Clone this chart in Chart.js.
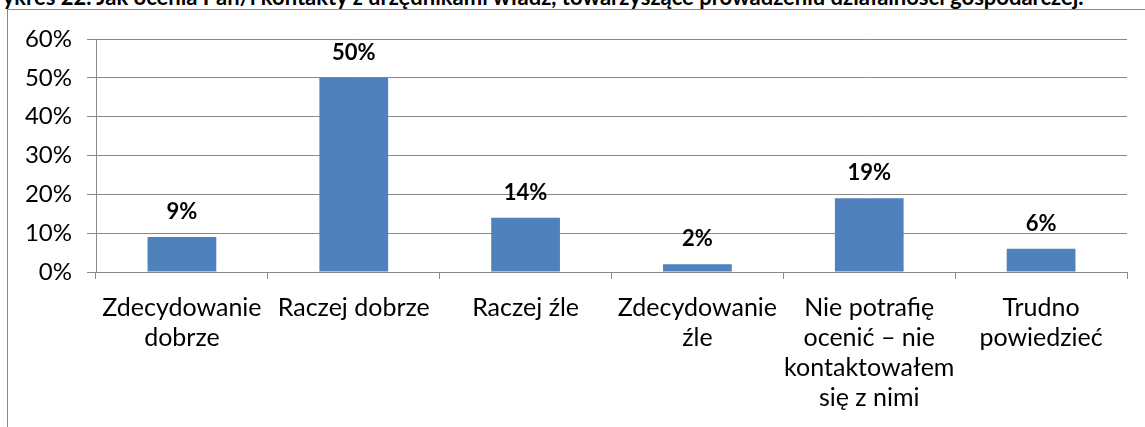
<!DOCTYPE html>
<html>
<head>
<meta charset="utf-8">
<script src="https://cdn.jsdelivr.net/npm/chart.js@4/dist/chart.umd.min.js"></script>
<style>
  html, body { margin:0; padding:0; background:#fff; overflow:hidden; }
  #wrap { position:relative; width:1145px; height:427px; overflow:hidden; }
  #title { position:absolute; left:-20px; top:-16px; line-height:26px; white-space:nowrap; font-family:Lato, "Noto Sans", sans-serif; font-weight:bold; font-size:22px; color:#000; }
  #frame { position:absolute; left:7px; top:9px; width:1200px; height:500px; border-left:1px solid #8a8a8a; border-top:1px solid #8a8a8a; }
  canvas { position:absolute; left:0; top:0; }
</style>
</head>
<body>
<div id="wrap">
  <div id="title">Wykres 22. Jak ocenia Pan/i kontakty z urzędnikami władz, towarzyszące prowadzeniu działalności gospodarczej.</div>
  <div id="frame"></div>
  <canvas id="c" width="1145" height="427"></canvas>
</div>
<script>
const categories = [
  ["Zdecydowanie", "dobrze"],
  ["Raczej dobrze"],
  ["Raczej źle"],
  ["Zdecydowanie", "źle"],
  ["Nie potrafię", "ocenić – nie", "kontaktowałem", "się z nimi"],
  ["Trudno", "powiedzieć"]
];
const values = [9, 50, 14, 2, 19, 6];
const yTicks = [0, 10, 20, 30, 40, 50, 60];

const FONT = 'Lato, "Noto Sans", sans-serif';

const labelPlugin = {
  id: 'barLabels',
  afterDatasetsDraw(chart) {
    const ctx = chart.ctx;
    const meta = chart.getDatasetMeta(0);
    ctx.save();
    ctx.font = 'bold 22px ' + FONT;
    ctx.fillStyle = '#000';
    ctx.textAlign = 'center';
    ctx.textBaseline = 'middle';
    meta.data.forEach((bar, i) => {
      ctx.fillText(values[i] + '%', bar.x, bar.y - 25);
    });
    ctx.restore();
  }
};

new Chart(document.getElementById('c'), {
  type: 'bar',
  data: {
    labels: categories,
    datasets: [{
      data: values,
      backgroundColor: '#4F81BD',
      borderWidth: 0,
      categoryPercentage: 1.0,
      barPercentage: 0.4
    }]
  },
  options: {
    responsive: false,
    animation: false,
    devicePixelRatio: 1,
    layout: { padding: { top: 39, right: 18, left: 0, bottom: 0 } },
    plugins: { legend: { display: false }, tooltip: { enabled: false }, title: { display: false } },
    scales: {
      x: {
        afterFit(scale) { scale.height = 155; },
        grid: { offset: true, drawOnChartArea: false, drawTicks: true, tickLength: 7, color: '#8a8a8a', lineWidth: 1 },
        border: { display: true, color: '#8a8a8a', width: 1 },
        ticks: { color: '#000', font: { family: FONT, size: 25 }, padding: 14, maxRotation: 0, autoSkip: false, lineHeight: 1.25 }
      },
      y: {
        min: 0, max: 60,
        afterFit(scale) { scale.width = 96; },
        afterBuildTicks(scale) { scale.ticks = yTicks.map(v => ({ value: v })); },
        grid: { color: '#8a8a8a', lineWidth: 1, tickLength: 9, drawTicks: true },
        border: { display: true, color: '#8a8a8a', width: 1 },
        ticks: { color: '#000', font: { family: FONT, size: 24 }, padding: 15, callback: v => v + '%' }
      }
    }
  },
  plugins: [labelPlugin]
});
</script>
</body>
</html>
